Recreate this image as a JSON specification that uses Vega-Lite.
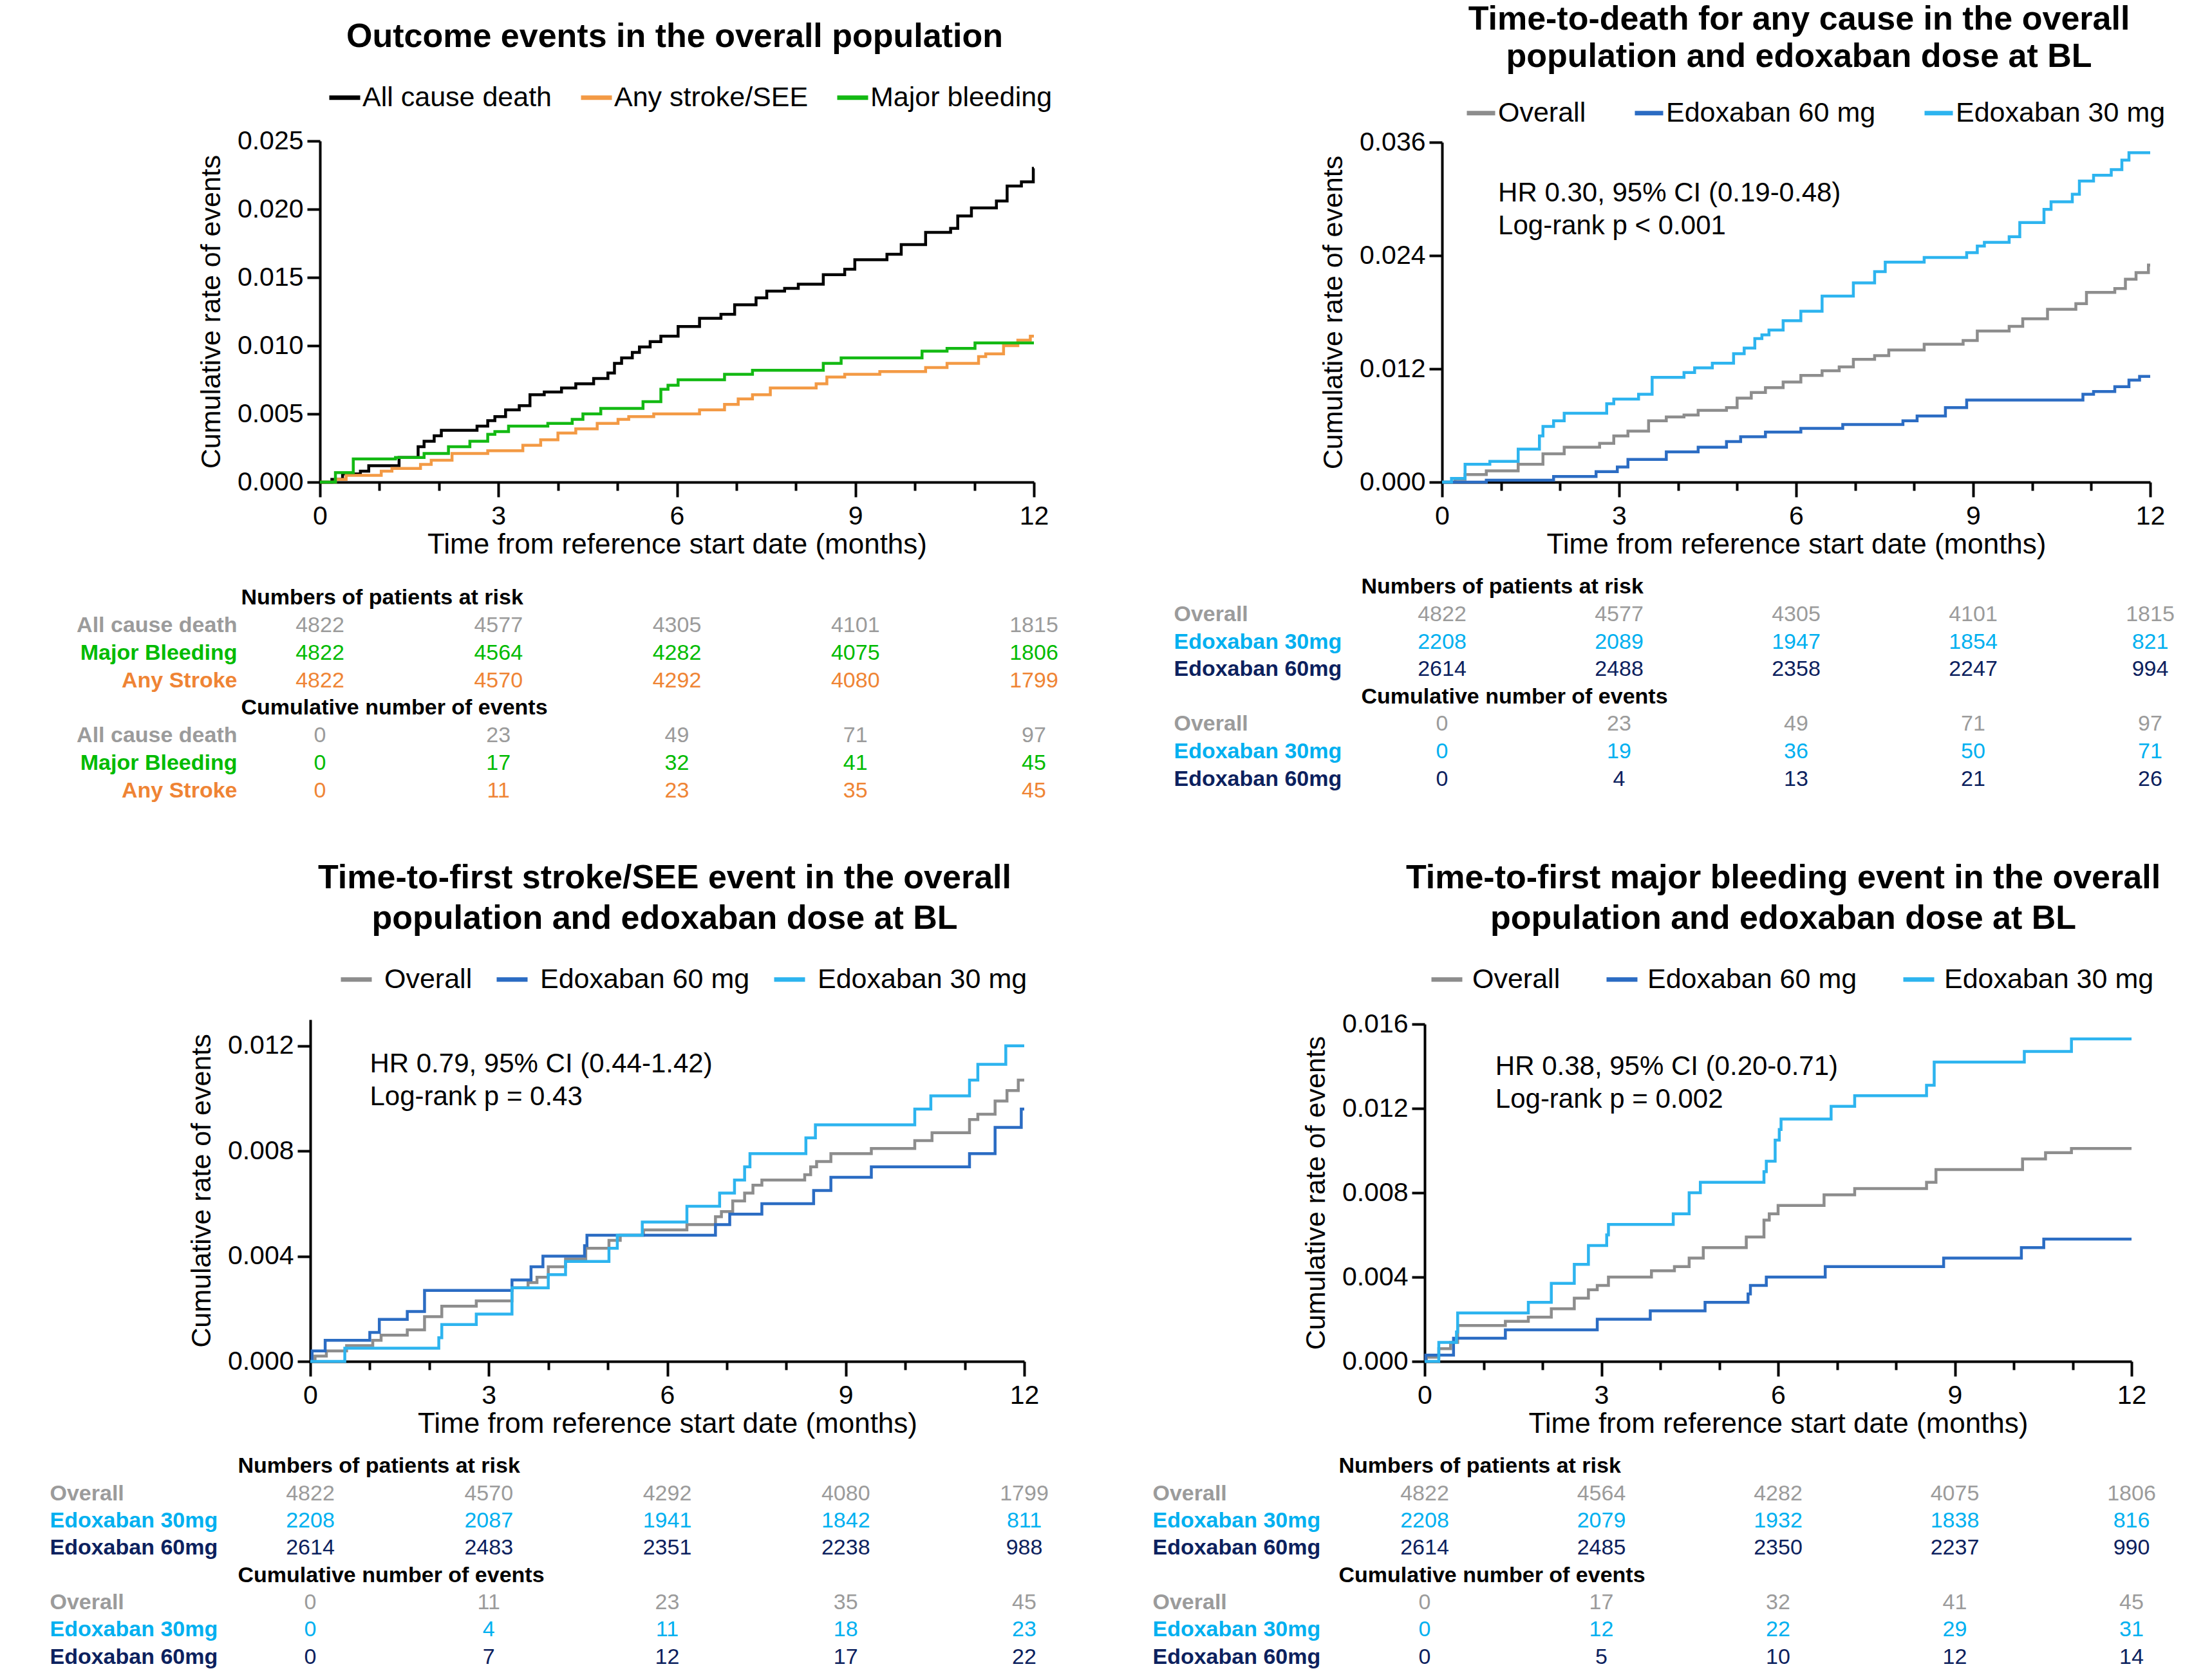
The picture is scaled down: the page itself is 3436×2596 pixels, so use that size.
{
  "$schema": "https://vega.github.io/schema/vega-lite/v6.json",
  "padding": {"left": 77, "top": 4, "right": 10, "bottom": 0},
  "background": "white",
  "config": {
    "font": "Liberation Sans",
    "view": {"stroke": null},
    "title": {"font": "Liberation Sans", "fontSize": 52, "fontWeight": "bold", "color": "#000000", "anchor": "middle", "frame": "group"},
    "axis": {"labelFont": "Liberation Sans", "titleFont": "Liberation Sans", "domainColor": "#000000", "tickColor": "#000000", "labelColor": "#000000", "titleColor": "#000000", "grid": false},
    "legend": {"labelFont": "Liberation Sans"},
    "text": {"font": "Liberation Sans"}
  },
  "datasets": {
    "p1": [
      {"s":"All cause death","t":0,"v":0},{"s":"All cause death","t":0.2,"v":0.0002},{"s":"All cause death","t":0.38,"v":0.0006},{"s":"All cause death","t":0.68,"v":0.0008},{"s":"All cause death","t":0.82,"v":0.0012},{"s":"All cause death","t":1.33,"v":0.0018},{"s":"All cause death","t":1.65,"v":0.0026},{"s":"All cause death","t":1.75,"v":0.003},{"s":"All cause death","t":1.92,"v":0.0034},{"s":"All cause death","t":2.04,"v":0.0038},{"s":"All cause death","t":2.64,"v":0.0041},{"s":"All cause death","t":2.82,"v":0.0045},{"s":"All cause death","t":2.94,"v":0.0048},{"s":"All cause death","t":3.12,"v":0.0053},{"s":"All cause death","t":3.35,"v":0.0056},{"s":"All cause death","t":3.53,"v":0.0064},{"s":"All cause death","t":3.77,"v":0.0066},{"s":"All cause death","t":4.06,"v":0.0069},{"s":"All cause death","t":4.3,"v":0.0072},{"s":"All cause death","t":4.6,"v":0.0076},{"s":"All cause death","t":4.84,"v":0.008},{"s":"All cause death","t":4.95,"v":0.0087},{"s":"All cause death","t":5.07,"v":0.0091},{"s":"All cause death","t":5.25,"v":0.0095},{"s":"All cause death","t":5.37,"v":0.0099},{"s":"All cause death","t":5.55,"v":0.0103},{"s":"All cause death","t":5.73,"v":0.0107},{"s":"All cause death","t":6.02,"v":0.0114},{"s":"All cause death","t":6.38,"v":0.012},{"s":"All cause death","t":6.74,"v":0.0123},{"s":"All cause death","t":6.97,"v":0.013},{"s":"All cause death","t":7.33,"v":0.0135},{"s":"All cause death","t":7.51,"v":0.014},{"s":"All cause death","t":7.81,"v":0.0142},{"s":"All cause death","t":8.04,"v":0.0145},{"s":"All cause death","t":8.46,"v":0.0152},{"s":"All cause death","t":8.82,"v":0.0156},{"s":"All cause death","t":8.99,"v":0.0163},{"s":"All cause death","t":9.53,"v":0.0167},{"s":"All cause death","t":9.77,"v":0.0174},{"s":"All cause death","t":10.18,"v":0.0183},{"s":"All cause death","t":10.6,"v":0.0186},{"s":"All cause death","t":10.72,"v":0.0195},{"s":"All cause death","t":10.95,"v":0.0201},{"s":"All cause death","t":11.37,"v":0.0206},{"s":"All cause death","t":11.55,"v":0.0217},{"s":"All cause death","t":11.79,"v":0.022},{"s":"All cause death","t":11.99,"v":0.023},{"s":"All cause death","t":12,"v":0.023},
      {"s":"Any stroke/SEE","t":0,"v":0},{"s":"Any stroke/SEE","t":0.26,"v":0.0002},{"s":"Any stroke/SEE","t":0.44,"v":0.0005},{"s":"Any stroke/SEE","t":1.03,"v":0.0008},{"s":"Any stroke/SEE","t":1.21,"v":0.001},{"s":"Any stroke/SEE","t":1.69,"v":0.0013},{"s":"Any stroke/SEE","t":1.87,"v":0.0016},{"s":"Any stroke/SEE","t":2.22,"v":0.0021},{"s":"Any stroke/SEE","t":2.82,"v":0.0023},{"s":"Any stroke/SEE","t":3.41,"v":0.0027},{"s":"Any stroke/SEE","t":3.71,"v":0.0031},{"s":"Any stroke/SEE","t":4.0,"v":0.0036},{"s":"Any stroke/SEE","t":4.3,"v":0.0039},{"s":"Any stroke/SEE","t":4.66,"v":0.0043},{"s":"Any stroke/SEE","t":5.01,"v":0.0046},{"s":"Any stroke/SEE","t":5.19,"v":0.0048},{"s":"Any stroke/SEE","t":5.61,"v":0.005},{"s":"Any stroke/SEE","t":6.38,"v":0.0053},{"s":"Any stroke/SEE","t":6.8,"v":0.0057},{"s":"Any stroke/SEE","t":7.03,"v":0.0061},{"s":"Any stroke/SEE","t":7.27,"v":0.0064},{"s":"Any stroke/SEE","t":7.57,"v":0.0069},{"s":"Any stroke/SEE","t":8.34,"v":0.0072},{"s":"Any stroke/SEE","t":8.52,"v":0.0077},{"s":"Any stroke/SEE","t":8.82,"v":0.0079},{"s":"Any stroke/SEE","t":9.41,"v":0.0081},{"s":"Any stroke/SEE","t":10.18,"v":0.0084},{"s":"Any stroke/SEE","t":10.54,"v":0.0087},{"s":"Any stroke/SEE","t":11.07,"v":0.0092},{"s":"Any stroke/SEE","t":11.19,"v":0.0094},{"s":"Any stroke/SEE","t":11.49,"v":0.01},{"s":"Any stroke/SEE","t":11.73,"v":0.0104},{"s":"Any stroke/SEE","t":11.94,"v":0.0107},{"s":"Any stroke/SEE","t":12,"v":0.0107},
      {"s":"Major bleeding","t":0,"v":0},{"s":"Major bleeding","t":0.26,"v":0.0007},{"s":"Major bleeding","t":0.56,"v":0.0017},{"s":"Major bleeding","t":1.27,"v":0.0018},{"s":"Major bleeding","t":1.75,"v":0.0021},{"s":"Major bleeding","t":2.16,"v":0.0026},{"s":"Major bleeding","t":2.52,"v":0.003},{"s":"Major bleeding","t":2.82,"v":0.0035},{"s":"Major bleeding","t":2.94,"v":0.0037},{"s":"Major bleeding","t":3.17,"v":0.0041},{"s":"Major bleeding","t":3.83,"v":0.0043},{"s":"Major bleeding","t":4.24,"v":0.0046},{"s":"Major bleeding","t":4.42,"v":0.005},{"s":"Major bleeding","t":4.72,"v":0.0054},{"s":"Major bleeding","t":5.43,"v":0.0059},{"s":"Major bleeding","t":5.73,"v":0.0068},{"s":"Major bleeding","t":5.85,"v":0.0071},{"s":"Major bleeding","t":6.02,"v":0.0075},{"s":"Major bleeding","t":6.8,"v":0.0079},{"s":"Major bleeding","t":7.27,"v":0.0082},{"s":"Major bleeding","t":8.46,"v":0.0087},{"s":"Major bleeding","t":8.76,"v":0.0091},{"s":"Major bleeding","t":10.12,"v":0.0096},{"s":"Major bleeding","t":10.54,"v":0.0098},{"s":"Major bleeding","t":11.01,"v":0.0102},{"s":"Major bleeding","t":12,"v":0.0102}
    ],
    "p2": [
      {"s":"Overall","t":0,"v":0},{"s":"Overall","t":0.22,"v":0.0003},{"s":"Overall","t":0.39,"v":0.0008},{"s":"Overall","t":0.75,"v":0.0012},{"s":"Overall","t":1.29,"v":0.0019},{"s":"Overall","t":1.71,"v":0.003},{"s":"Overall","t":2.07,"v":0.0037},{"s":"Overall","t":2.67,"v":0.0041},{"s":"Overall","t":2.91,"v":0.0049},{"s":"Overall","t":3.15,"v":0.0054},{"s":"Overall","t":3.5,"v":0.0065},{"s":"Overall","t":3.8,"v":0.0069},{"s":"Overall","t":4.1,"v":0.0071},{"s":"Overall","t":4.34,"v":0.0076},{"s":"Overall","t":4.82,"v":0.0079},{"s":"Overall","t":5.0,"v":0.0089},{"s":"Overall","t":5.24,"v":0.0095},{"s":"Overall","t":5.48,"v":0.01},{"s":"Overall","t":5.78,"v":0.0106},{"s":"Overall","t":6.08,"v":0.0113},{"s":"Overall","t":6.44,"v":0.0118},{"s":"Overall","t":6.73,"v":0.0122},{"s":"Overall","t":6.97,"v":0.013},{"s":"Overall","t":7.33,"v":0.0134},{"s":"Overall","t":7.57,"v":0.014},{"s":"Overall","t":8.17,"v":0.0146},{"s":"Overall","t":8.83,"v":0.015},{"s":"Overall","t":9.07,"v":0.016},{"s":"Overall","t":9.61,"v":0.0165},{"s":"Overall","t":9.84,"v":0.0173},{"s":"Overall","t":10.26,"v":0.0183},{"s":"Overall","t":10.74,"v":0.0189},{"s":"Overall","t":10.92,"v":0.0201},{"s":"Overall","t":11.4,"v":0.0205},{"s":"Overall","t":11.58,"v":0.0215},{"s":"Overall","t":11.76,"v":0.0222},{"s":"Overall","t":11.97,"v":0.023},{"s":"Overall","t":12,"v":0.023},
      {"s":"Edoxaban 60 mg","t":0,"v":0},{"s":"Edoxaban 60 mg","t":0.75,"v":0.0002},{"s":"Edoxaban 60 mg","t":1.89,"v":0.0006},{"s":"Edoxaban 60 mg","t":2.61,"v":0.0011},{"s":"Edoxaban 60 mg","t":2.97,"v":0.0016},{"s":"Edoxaban 60 mg","t":3.15,"v":0.0024},{"s":"Edoxaban 60 mg","t":3.8,"v":0.0032},{"s":"Edoxaban 60 mg","t":4.34,"v":0.0037},{"s":"Edoxaban 60 mg","t":4.82,"v":0.0043},{"s":"Edoxaban 60 mg","t":5.06,"v":0.0048},{"s":"Edoxaban 60 mg","t":5.48,"v":0.0053},{"s":"Edoxaban 60 mg","t":6.08,"v":0.0057},{"s":"Edoxaban 60 mg","t":6.79,"v":0.0061},{"s":"Edoxaban 60 mg","t":7.81,"v":0.0065},{"s":"Edoxaban 60 mg","t":8.05,"v":0.007},{"s":"Edoxaban 60 mg","t":8.53,"v":0.0079},{"s":"Edoxaban 60 mg","t":8.89,"v":0.0087},{"s":"Edoxaban 60 mg","t":10.86,"v":0.0093},{"s":"Edoxaban 60 mg","t":11.04,"v":0.0096},{"s":"Edoxaban 60 mg","t":11.4,"v":0.0101},{"s":"Edoxaban 60 mg","t":11.64,"v":0.0108},{"s":"Edoxaban 60 mg","t":11.82,"v":0.0112},{"s":"Edoxaban 60 mg","t":12,"v":0.0112},
      {"s":"Edoxaban 30 mg","t":0,"v":0},{"s":"Edoxaban 30 mg","t":0.16,"v":0.0004},{"s":"Edoxaban 30 mg","t":0.39,"v":0.0019},{"s":"Edoxaban 30 mg","t":0.81,"v":0.0022},{"s":"Edoxaban 30 mg","t":1.29,"v":0.0035},{"s":"Edoxaban 30 mg","t":1.65,"v":0.0049},{"s":"Edoxaban 30 mg","t":1.71,"v":0.0059},{"s":"Edoxaban 30 mg","t":1.89,"v":0.0065},{"s":"Edoxaban 30 mg","t":2.07,"v":0.0073},{"s":"Edoxaban 30 mg","t":2.79,"v":0.0083},{"s":"Edoxaban 30 mg","t":2.91,"v":0.0088},{"s":"Edoxaban 30 mg","t":3.33,"v":0.0093},{"s":"Edoxaban 30 mg","t":3.56,"v":0.0111},{"s":"Edoxaban 30 mg","t":4.1,"v":0.0116},{"s":"Edoxaban 30 mg","t":4.28,"v":0.0121},{"s":"Edoxaban 30 mg","t":4.58,"v":0.0126},{"s":"Edoxaban 30 mg","t":4.94,"v":0.0136},{"s":"Edoxaban 30 mg","t":5.12,"v":0.0142},{"s":"Edoxaban 30 mg","t":5.3,"v":0.0152},{"s":"Edoxaban 30 mg","t":5.42,"v":0.0156},{"s":"Edoxaban 30 mg","t":5.54,"v":0.0161},{"s":"Edoxaban 30 mg","t":5.78,"v":0.0171},{"s":"Edoxaban 30 mg","t":6.08,"v":0.0181},{"s":"Edoxaban 30 mg","t":6.44,"v":0.0197},{"s":"Edoxaban 30 mg","t":6.97,"v":0.0211},{"s":"Edoxaban 30 mg","t":7.33,"v":0.0223},{"s":"Edoxaban 30 mg","t":7.51,"v":0.0233},{"s":"Edoxaban 30 mg","t":8.17,"v":0.0238},{"s":"Edoxaban 30 mg","t":8.89,"v":0.0243},{"s":"Edoxaban 30 mg","t":9.07,"v":0.025},{"s":"Edoxaban 30 mg","t":9.19,"v":0.0254},{"s":"Edoxaban 30 mg","t":9.61,"v":0.026},{"s":"Edoxaban 30 mg","t":9.79,"v":0.0275},{"s":"Edoxaban 30 mg","t":10.2,"v":0.0289},{"s":"Edoxaban 30 mg","t":10.32,"v":0.0297},{"s":"Edoxaban 30 mg","t":10.68,"v":0.0305},{"s":"Edoxaban 30 mg","t":10.8,"v":0.0319},{"s":"Edoxaban 30 mg","t":11.04,"v":0.0325},{"s":"Edoxaban 30 mg","t":11.34,"v":0.0331},{"s":"Edoxaban 30 mg","t":11.52,"v":0.0341},{"s":"Edoxaban 30 mg","t":11.64,"v":0.0349},{"s":"Edoxaban 30 mg","t":12,"v":0.0349}
    ],
    "p3": [
      {"s":"Overall","t":0,"v":0},{"s":"Overall","t":0.08,"v":0.0002},{"s":"Overall","t":0.27,"v":0.0004},{"s":"Overall","t":0.61,"v":0.0006},{"s":"Overall","t":1.05,"v":0.0008},{"s":"Overall","t":1.19,"v":0.001},{"s":"Overall","t":1.63,"v":0.0012},{"s":"Overall","t":1.92,"v":0.0017},{"s":"Overall","t":2.21,"v":0.0021},{"s":"Overall","t":2.79,"v":0.0023},{"s":"Overall","t":3.39,"v":0.0028},{"s":"Overall","t":3.66,"v":0.003},{"s":"Overall","t":3.81,"v":0.0032},{"s":"Overall","t":4.0,"v":0.0036},{"s":"Overall","t":4.29,"v":0.0039},{"s":"Overall","t":4.63,"v":0.0043},{"s":"Overall","t":5.02,"v":0.0046},{"s":"Overall","t":5.21,"v":0.0048},{"s":"Overall","t":5.6,"v":0.005},{"s":"Overall","t":6.33,"v":0.0052},{"s":"Overall","t":6.81,"v":0.0055},{"s":"Overall","t":6.91,"v":0.0057},{"s":"Overall","t":7.1,"v":0.0061},{"s":"Overall","t":7.3,"v":0.0064},{"s":"Overall","t":7.44,"v":0.0067},{"s":"Overall","t":7.59,"v":0.0069},{"s":"Overall","t":8.31,"v":0.0071},{"s":"Overall","t":8.41,"v":0.0074},{"s":"Overall","t":8.51,"v":0.0076},{"s":"Overall","t":8.75,"v":0.0079},{"s":"Overall","t":9.43,"v":0.0081},{"s":"Overall","t":10.16,"v":0.0084},{"s":"Overall","t":10.45,"v":0.0087},{"s":"Overall","t":11.08,"v":0.0092},{"s":"Overall","t":11.22,"v":0.0094},{"s":"Overall","t":11.51,"v":0.0099},{"s":"Overall","t":11.71,"v":0.0103},{"s":"Overall","t":11.9,"v":0.0107},{"s":"Overall","t":12,"v":0.0107},
      {"s":"Edoxaban 60 mg","t":0,"v":0},{"s":"Edoxaban 60 mg","t":0.03,"v":0.0004},{"s":"Edoxaban 60 mg","t":0.25,"v":0.0008},{"s":"Edoxaban 60 mg","t":1.0,"v":0.0011},{"s":"Edoxaban 60 mg","t":1.16,"v":0.0016},{"s":"Edoxaban 60 mg","t":1.63,"v":0.0019},{"s":"Edoxaban 60 mg","t":1.92,"v":0.0027},{"s":"Edoxaban 60 mg","t":3.39,"v":0.0031},{"s":"Edoxaban 60 mg","t":3.71,"v":0.0036},{"s":"Edoxaban 60 mg","t":3.91,"v":0.004},{"s":"Edoxaban 60 mg","t":4.61,"v":0.0044},{"s":"Edoxaban 60 mg","t":4.65,"v":0.0048},{"s":"Edoxaban 60 mg","t":6.81,"v":0.0052},{"s":"Edoxaban 60 mg","t":7.05,"v":0.0056},{"s":"Edoxaban 60 mg","t":7.59,"v":0.006},{"s":"Edoxaban 60 mg","t":8.46,"v":0.0065},{"s":"Edoxaban 60 mg","t":8.75,"v":0.007},{"s":"Edoxaban 60 mg","t":9.43,"v":0.0074},{"s":"Edoxaban 60 mg","t":11.08,"v":0.0079},{"s":"Edoxaban 60 mg","t":11.51,"v":0.0089},{"s":"Edoxaban 60 mg","t":11.95,"v":0.0096},{"s":"Edoxaban 60 mg","t":12,"v":0.0096},
      {"s":"Edoxaban 30 mg","t":0,"v":0},{"s":"Edoxaban 30 mg","t":0.58,"v":0.0005},{"s":"Edoxaban 30 mg","t":2.16,"v":0.0009},{"s":"Edoxaban 30 mg","t":2.21,"v":0.0014},{"s":"Edoxaban 30 mg","t":2.79,"v":0.0018},{"s":"Edoxaban 30 mg","t":3.39,"v":0.0028},{"s":"Edoxaban 30 mg","t":4.0,"v":0.0033},{"s":"Edoxaban 30 mg","t":4.29,"v":0.0038},{"s":"Edoxaban 30 mg","t":5.02,"v":0.0043},{"s":"Edoxaban 30 mg","t":5.16,"v":0.0048},{"s":"Edoxaban 30 mg","t":5.58,"v":0.0053},{"s":"Edoxaban 30 mg","t":6.33,"v":0.0059},{"s":"Edoxaban 30 mg","t":6.88,"v":0.0064},{"s":"Edoxaban 30 mg","t":7.13,"v":0.0069},{"s":"Edoxaban 30 mg","t":7.3,"v":0.0074},{"s":"Edoxaban 30 mg","t":7.39,"v":0.0079},{"s":"Edoxaban 30 mg","t":8.33,"v":0.0085},{"s":"Edoxaban 30 mg","t":8.49,"v":0.009},{"s":"Edoxaban 30 mg","t":10.16,"v":0.0096},{"s":"Edoxaban 30 mg","t":10.43,"v":0.0101},{"s":"Edoxaban 30 mg","t":11.08,"v":0.0107},{"s":"Edoxaban 30 mg","t":11.22,"v":0.0113},{"s":"Edoxaban 30 mg","t":11.69,"v":0.012},{"s":"Edoxaban 30 mg","t":12,"v":0.012}
    ],
    "p4": [
      {"s":"Overall","t":0,"v":0},{"s":"Overall","t":0.03,"v":0.0002},{"s":"Overall","t":0.24,"v":0.0006},{"s":"Overall","t":0.44,"v":0.0009},{"s":"Overall","t":0.56,"v":0.0017},{"s":"Overall","t":1.37,"v":0.0019},{"s":"Overall","t":1.76,"v":0.0021},{"s":"Overall","t":2.15,"v":0.0025},{"s":"Overall","t":2.54,"v":0.003},{"s":"Overall","t":2.78,"v":0.0034},{"s":"Overall","t":2.93,"v":0.0036},{"s":"Overall","t":3.12,"v":0.004},{"s":"Overall","t":3.85,"v":0.0043},{"s":"Overall","t":4.24,"v":0.0045},{"s":"Overall","t":4.49,"v":0.0049},{"s":"Overall","t":4.73,"v":0.0054},{"s":"Overall","t":5.46,"v":0.0059},{"s":"Overall","t":5.76,"v":0.0067},{"s":"Overall","t":5.85,"v":0.007},{"s":"Overall","t":6.0,"v":0.0074},{"s":"Overall","t":6.78,"v":0.0079},{"s":"Overall","t":7.3,"v":0.0082},{"s":"Overall","t":8.52,"v":0.0085},{"s":"Overall","t":8.68,"v":0.0091},{"s":"Overall","t":10.15,"v":0.0096},{"s":"Overall","t":10.54,"v":0.0099},{"s":"Overall","t":10.98,"v":0.0101},{"s":"Overall","t":12,"v":0.0101},
      {"s":"Edoxaban 60 mg","t":0,"v":0},{"s":"Edoxaban 60 mg","t":0.02,"v":0.0003},{"s":"Edoxaban 60 mg","t":0.49,"v":0.0011},{"s":"Edoxaban 60 mg","t":1.37,"v":0.0015},{"s":"Edoxaban 60 mg","t":2.93,"v":0.002},{"s":"Edoxaban 60 mg","t":3.83,"v":0.0024},{"s":"Edoxaban 60 mg","t":4.76,"v":0.0028},{"s":"Edoxaban 60 mg","t":5.49,"v":0.0032},{"s":"Edoxaban 60 mg","t":5.53,"v":0.0036},{"s":"Edoxaban 60 mg","t":5.8,"v":0.004},{"s":"Edoxaban 60 mg","t":6.8,"v":0.0045},{"s":"Edoxaban 60 mg","t":8.81,"v":0.0049},{"s":"Edoxaban 60 mg","t":10.13,"v":0.0054},{"s":"Edoxaban 60 mg","t":10.51,"v":0.0058},{"s":"Edoxaban 60 mg","t":12,"v":0.0058},
      {"s":"Edoxaban 30 mg","t":0,"v":0},{"s":"Edoxaban 30 mg","t":0.24,"v":0.0009},{"s":"Edoxaban 30 mg","t":0.54,"v":0.0014},{"s":"Edoxaban 30 mg","t":0.56,"v":0.0023},{"s":"Edoxaban 30 mg","t":1.76,"v":0.0028},{"s":"Edoxaban 30 mg","t":2.15,"v":0.0037},{"s":"Edoxaban 30 mg","t":2.54,"v":0.0046},{"s":"Edoxaban 30 mg","t":2.78,"v":0.0055},{"s":"Edoxaban 30 mg","t":3.09,"v":0.006},{"s":"Edoxaban 30 mg","t":3.12,"v":0.0065},{"s":"Edoxaban 30 mg","t":4.22,"v":0.007},{"s":"Edoxaban 30 mg","t":4.49,"v":0.008},{"s":"Edoxaban 30 mg","t":4.68,"v":0.0085},{"s":"Edoxaban 30 mg","t":5.76,"v":0.009},{"s":"Edoxaban 30 mg","t":5.8,"v":0.0095},{"s":"Edoxaban 30 mg","t":5.95,"v":0.0105},{"s":"Edoxaban 30 mg","t":6.02,"v":0.011},{"s":"Edoxaban 30 mg","t":6.05,"v":0.0115},{"s":"Edoxaban 30 mg","t":6.9,"v":0.0121},{"s":"Edoxaban 30 mg","t":7.3,"v":0.0126},{"s":"Edoxaban 30 mg","t":8.52,"v":0.0131},{"s":"Edoxaban 30 mg","t":8.65,"v":0.0142},{"s":"Edoxaban 30 mg","t":10.18,"v":0.0147},{"s":"Edoxaban 30 mg","t":10.98,"v":0.0153},{"s":"Edoxaban 30 mg","t":12,"v":0.0153}
    ],
    "t1": [
      {"r":"All cause death","g":"All cause death","m0":4822,"m3":4577,"m6":4305,"m9":4101,"m12":1815},
      {"r":"Major Bleeding","g":"Major Bleeding","m0":4822,"m3":4564,"m6":4282,"m9":4075,"m12":1806},
      {"r":"Any Stroke","g":"Any Stroke","m0":4822,"m3":4570,"m6":4292,"m9":4080,"m12":1799},
      {"r":"~All cause death","g":"All cause death","m0":0,"m3":23,"m6":49,"m9":71,"m12":97},
      {"r":"~Major Bleeding","g":"Major Bleeding","m0":0,"m3":17,"m6":32,"m9":41,"m12":45},
      {"r":"~Any Stroke","g":"Any Stroke","m0":0,"m3":11,"m6":23,"m9":35,"m12":45}
    ],
    "t2": [
      {"r":"Overall","g":"Overall","m0":4822,"m3":4577,"m6":4305,"m9":4101,"m12":1815},
      {"r":"Edoxaban 30mg","g":"Edoxaban 30mg","m0":2208,"m3":2089,"m6":1947,"m9":1854,"m12":821},
      {"r":"Edoxaban 60mg","g":"Edoxaban 60mg","m0":2614,"m3":2488,"m6":2358,"m9":2247,"m12":994},
      {"r":"~Overall","g":"Overall","m0":0,"m3":23,"m6":49,"m9":71,"m12":97},
      {"r":"~Edoxaban 30mg","g":"Edoxaban 30mg","m0":0,"m3":19,"m6":36,"m9":50,"m12":71},
      {"r":"~Edoxaban 60mg","g":"Edoxaban 60mg","m0":0,"m3":4,"m6":13,"m9":21,"m12":26}
    ],
    "t3": [
      {"r":"Overall","g":"Overall","m0":4822,"m3":4570,"m6":4292,"m9":4080,"m12":1799},
      {"r":"Edoxaban 30mg","g":"Edoxaban 30mg","m0":2208,"m3":2087,"m6":1941,"m9":1842,"m12":811},
      {"r":"Edoxaban 60mg","g":"Edoxaban 60mg","m0":2614,"m3":2483,"m6":2351,"m9":2238,"m12":988},
      {"r":"~Overall","g":"Overall","m0":0,"m3":11,"m6":23,"m9":35,"m12":45},
      {"r":"~Edoxaban 30mg","g":"Edoxaban 30mg","m0":0,"m3":4,"m6":11,"m9":18,"m12":23},
      {"r":"~Edoxaban 60mg","g":"Edoxaban 60mg","m0":0,"m3":7,"m6":12,"m9":17,"m12":22}
    ],
    "t4": [
      {"r":"Overall","g":"Overall","m0":4822,"m3":4564,"m6":4282,"m9":4075,"m12":1806},
      {"r":"Edoxaban 30mg","g":"Edoxaban 30mg","m0":2208,"m3":2079,"m6":1932,"m9":1838,"m12":816},
      {"r":"Edoxaban 60mg","g":"Edoxaban 60mg","m0":2614,"m3":2485,"m6":2350,"m9":2237,"m12":990},
      {"r":"~Overall","g":"Overall","m0":0,"m3":17,"m6":32,"m9":41,"m12":45},
      {"r":"~Edoxaban 30mg","g":"Edoxaban 30mg","m0":0,"m3":12,"m6":22,"m9":29,"m12":31},
      {"r":"~Edoxaban 60mg","g":"Edoxaban 60mg","m0":0,"m3":5,"m6":10,"m9":12,"m12":14}
    ],
    "blank": [{"a": 1}]
  },
  "columns": 3,
  "spacing": {"row": 142, "column": 0},
  "align": "each",
  "bounds": "flush",
  "resolve": {"scale": {"color": "independent"}, "legend": {"color": "independent"}},
  "concat": [
    {
      "width": 1124, "height": 530,
      "data": {"name": "p1"},
      "title": {"text": "Outcome events in the overall population", "offset": 40, "dx": 4},
      "mark": {"type": "line", "interpolate": "step-after", "strokeWidth": 4.5},
      "encoding": {
        "x": {"field": "t", "type": "quantitative", "scale": {"domain": [0, 12], "nice": false, "range": [15, 1124]},
          "axis": {"values": [0,1,2,3,4,5,6,7,8,9,10,11,12], "format": "d", "labelExpr": "datum.value % 3 === 0 ? datum.label : ''", "tickSize": {"condition": {"test": "datum.value % 3 === 0", "value": 23}, "value": 13}, "tickWidth": 4, "domainWidth": 4, "labelFontSize": 41, "labelPadding": 10, "labelFlush": false, "labelOverlap": false, "title": "Time from reference start date (months)", "titleFontSize": 44, "titleFontWeight": "normal", "titlePadding": 2}},
        "y": {"field": "v", "type": "quantitative", "scale": {"domain": [0, 0.025], "nice": false},
          "axis": {"offset": -15, "values": [0, 0.005, 0.01, 0.015, 0.02, 0.025], "format": ".3f", "tickSize": 20, "tickWidth": 4, "domainWidth": 4, "labelFontSize": 41, "labelPadding": 6, "labelFlush": false, "title": "Cumulative rate of events", "titleFontSize": 43, "titleFontWeight": "normal", "titlePadding": 18}},
        "color": {"field": "s", "type": "nominal", "scale": {"domain": ["All cause death", "Any stroke/SEE", "Major bleeding"], "range": ["#000000", "#f39a45", "#13b913"]},
          "legend": {"orient": "none", "legendX": 26, "legendY": -95, "direction": "horizontal", "columns": 3, "title": null, "symbolType": "stroke", "symbolStrokeWidth": 7, "symbolSize": 2304, "labelFontSize": 43, "labelColor": "#000000", "labelLimit": 1000, "labelOffset": 0, "columnPadding": 30}}
      }
    },
    {"width": 607, "height": 1, "data": {"name": "blank"}, "mark": {"type": "point", "opacity": 0}, "encoding": {}},
    {
      "width": 1127, "height": 530,
      "title": {"text": ["Time-to-death for any cause in the overall", "population and edoxaban dose at BL"], "offset": 35, "lineHeight": 58, "dx": 18},
      "layer": [
        {
          "data": {"name": "p2"},
          "mark": {"type": "line", "interpolate": "step-after", "strokeWidth": 4.5},
          "encoding": {
            "x": {"field": "t", "type": "quantitative", "scale": {"domain": [0, 12], "nice": false, "range": [27, 1127]},
              "axis": {"values": [0,1,2,3,4,5,6,7,8,9,10,11,12], "format": "d", "labelExpr": "datum.value % 3 === 0 ? datum.label : ''", "tickSize": {"condition": {"test": "datum.value % 3 === 0", "value": 23}, "value": 13}, "tickWidth": 4, "domainWidth": 4, "labelFontSize": 41, "labelPadding": 10, "labelFlush": false, "labelOverlap": false, "title": "Time from reference start date (months)", "titleFontSize": 44, "titleFontWeight": "normal", "titlePadding": 2}},
            "y": {"field": "v", "type": "quantitative", "scale": {"domain": [0, 0.036], "nice": false, "range": [530, 2]},
              "axis": {"offset": -27, "values": [0, 0.012, 0.024, 0.036], "format": ".3f", "tickSize": 20, "tickWidth": 4, "domainWidth": 4, "labelFontSize": 41, "labelPadding": 6, "labelFlush": false, "title": "Cumulative rate of events", "titleFontSize": 43, "titleFontWeight": "normal", "titlePadding": 18}},
            "color": {"field": "s", "type": "nominal", "scale": {"domain": ["Overall", "Edoxaban 60 mg", "Edoxaban 30 mg"], "range": ["#8d8d8d", "#2b6cc3", "#2db4ef"]},
              "legend": {"orient": "none", "legendX": 62, "legendY": -69, "direction": "horizontal", "columns": 3, "title": null, "symbolType": "stroke", "symbolStrokeWidth": 7, "symbolSize": 1936, "labelFontSize": 43, "labelColor": "#000000", "labelLimit": 1000, "labelOffset": 1, "columnPadding": 61}}
          }
        },
        {
          "data": {"values": [{"txt": ["HR 0.30, 95% CI (0.19-0.48)", "Log-rank p < 0.001"]}]},
          "mark": {"type": "text", "align": "left", "baseline": "middle", "fontSize": 42, "lineHeight": 51, "color": "#000000"},
          "encoding": {"x": {"datum": 0.95, "type": "quantitative"}, "y": {"datum": 0.0306, "type": "quantitative"}, "text": {"field": "txt"}}
        }
      ]
    },
    {
      "width": 1124, "height": 359,
      "data": {"name": "t1"},
      "transform": [{"fold": ["m0", "m3", "m6", "m9", "m12"], "as": ["m", "n"]}],
      "mark": {"type": "text", "fontSize": 34, "align": "center", "baseline": "middle"},
      "encoding": {
        "x": {"field": "m", "type": "nominal", "scale": {"type": "point", "domain": ["m0", "m3", "m6", "m9", "m12"], "padding": 0, "range": [15, 1124]}, "axis": null},
        "y": {"field": "r", "type": "nominal", "scale": {"type": "band", "domain": ["Numbers of patients at risk", "All cause death", "Major Bleeding", "Any Stroke", "Cumulative number of events", "~All cause death", "~Major Bleeding", "~Any Stroke"], "paddingInner": 0, "paddingOuter": 0, "range": [17, 359]},
          "axis": {"title": null, "domain": false, "ticks": false, "tickSize": 0, "labelFontSize": 34, "labelFontWeight": "bold", "labelLimit": 0, "labelOverlap": false, "labelExpr": "replace(datum.label, '~', '')",
            "labelColor": {"condition": [{"test": "datum.value === 'Numbers of patients at risk' || datum.value === 'Cumulative number of events'", "value": "#000000"}, {"test": "indexof(datum.value, 'Major') >= 0", "value": "#00bb00"}, {"test": "indexof(datum.value, 'Stroke') >= 0", "value": "#ef8434"}], "value": "#9b9b9b"},
            "labelAlign": {"condition": {"test": "datum.value === 'Numbers of patients at risk' || datum.value === 'Cumulative number of events'", "value": "left"}, "value": "right"},
            "labelPadding": {"condition": {"test": "datum.value === 'Numbers of patients at risk' || datum.value === 'Cumulative number of events'", "value": 108}, "value": 114}}},
        "text": {"field": "n", "type": "nominal"},
        "color": {"field": "g", "type": "nominal", "scale": {"domain": ["All cause death", "Major Bleeding", "Any Stroke"], "range": ["#9b9b9b", "#00bb00", "#ef8434"]}, "legend": null}
      }
    },
    {"width": 607, "height": 1, "data": {"name": "blank"}, "mark": {"type": "point", "opacity": 0}, "encoding": {}},
    {
      "width": 1127, "height": 341,
      "data": {"name": "t2"},
      "transform": [{"fold": ["m0", "m3", "m6", "m9", "m12"], "as": ["m", "n"]}],
      "mark": {"type": "text", "fontSize": 34, "align": "center", "baseline": "middle"},
      "encoding": {
        "x": {"field": "m", "type": "nominal", "scale": {"type": "point", "domain": ["m0", "m3", "m6", "m9", "m12"], "padding": 0, "range": [27, 1127]}, "axis": null},
        "y": {"field": "r", "type": "nominal", "scale": {"type": "band", "domain": ["Numbers of patients at risk", "Overall", "Edoxaban 30mg", "Edoxaban 60mg", "Cumulative number of events", "~Overall", "~Edoxaban 30mg", "~Edoxaban 60mg"], "paddingInner": 0, "paddingOuter": 0},
          "axis": {"title": null, "domain": false, "ticks": false, "tickSize": 0, "labelFontSize": 34, "labelFontWeight": "bold", "labelLimit": 0, "labelOverlap": false, "labelAlign": "left", "labelExpr": "replace(datum.label, '~', '')",
            "labelColor": {"condition": [{"test": "datum.value === 'Numbers of patients at risk' || datum.value === 'Cumulative number of events'", "value": "#000000"}, {"test": "indexof(datum.value, '30mg') >= 0", "value": "#00b0f0"}, {"test": "indexof(datum.value, '60mg') >= 0", "value": "#0c215e"}], "value": "#9b9b9b"},
            "labelPadding": {"condition": {"test": "datum.value === 'Numbers of patients at risk' || datum.value === 'Cumulative number of events'", "value": 99}, "value": 390}}},
        "text": {"field": "n", "type": "nominal"},
        "color": {"field": "g", "type": "nominal", "scale": {"domain": ["Overall", "Edoxaban 30mg", "Edoxaban 60mg"], "range": ["#9b9b9b", "#00b0f0", "#0c215e"]}, "legend": null}
      }
    },
    {"width": 1, "height": 50, "data": {"name": "blank"}, "mark": {"type": "point", "opacity": 0}, "encoding": {}},
    {"width": 1, "height": 50, "data": {"name": "blank"}, "mark": {"type": "point", "opacity": 0}, "encoding": {}},
    {"width": 1, "height": 50, "data": {"name": "blank"}, "mark": {"type": "point", "opacity": 0}, "encoding": {}},
    {
      "width": 1109, "height": 531,
      "title": {"text": ["Time-to-first stroke/SEE event in the overall", "population and edoxaban dose at BL"], "offset": 40, "lineHeight": 63, "dx": -4},
      "layer": [
        {
          "data": {"name": "p3"},
          "mark": {"type": "line", "interpolate": "step-after", "strokeWidth": 4.5},
          "encoding": {
            "x": {"field": "t", "type": "quantitative", "scale": {"domain": [0, 12], "nice": false},
              "axis": {"values": [0,1,2,3,4,5,6,7,8,9,10,11,12], "format": "d", "labelExpr": "datum.value % 3 === 0 ? datum.label : ''", "tickSize": {"condition": {"test": "datum.value % 3 === 0", "value": 23}, "value": 13}, "tickWidth": 4, "domainWidth": 4, "labelFontSize": 41, "labelPadding": 10, "labelFlush": false, "labelOverlap": false, "title": "Time from reference start date (months)", "titleFontSize": 44, "titleFontWeight": "normal", "titlePadding": 2}},
            "y": {"field": "v", "type": "quantitative", "scale": {"domain": [0, 0.013], "nice": false},
              "axis": {"values": [0, 0.004, 0.008, 0.012], "format": ".3f", "tickSize": 20, "tickWidth": 4, "domainWidth": 4, "labelFontSize": 41, "labelPadding": 6, "labelFlush": false, "title": "Cumulative rate of events", "titleFontSize": 43, "titleFontWeight": "normal", "titlePadding": 18}},
            "color": {"field": "s", "type": "nominal", "scale": {"domain": ["Overall", "Edoxaban 60 mg", "Edoxaban 30 mg"], "range": ["#8d8d8d", "#2b6cc3", "#2db4ef"]},
              "legend": {"orient": "none", "legendX": 44, "legendY": -90, "direction": "horizontal", "columns": 3, "title": null, "symbolType": "stroke", "symbolStrokeWidth": 7, "symbolSize": 2304, "labelFontSize": 43, "labelColor": "#000000", "labelLimit": 1000, "labelOffset": 16, "columnPadding": 23}}
          }
        },
        {
          "data": {"values": [{"txt": ["HR 0.79, 95% CI (0.44-1.42)", "Log-rank p = 0.43"]}]},
          "mark": {"type": "text", "align": "left", "baseline": "middle", "fontSize": 42, "lineHeight": 51, "color": "#000000"},
          "encoding": {"x": {"datum": 1.0, "type": "quantitative"}, "y": {"datum": 0.0113, "type": "quantitative"}, "text": {"field": "txt"}}
        }
      ]
    },
    {"width": 607, "height": 1, "data": {"name": "blank"}, "mark": {"type": "point", "opacity": 0}, "encoding": {}},
    {
      "width": 1098, "height": 531,
      "title": {"text": ["Time-to-first major bleeding event in the overall", "population and edoxaban dose at BL"], "offset": 40, "lineHeight": 63, "dx": 8},
      "layer": [
        {
          "data": {"name": "p4"},
          "mark": {"type": "line", "interpolate": "step-after", "strokeWidth": 4.5},
          "encoding": {
            "x": {"field": "t", "type": "quantitative", "scale": {"domain": [0, 12], "nice": false},
              "axis": {"values": [0,1,2,3,4,5,6,7,8,9,10,11,12], "format": "d", "labelExpr": "datum.value % 3 === 0 ? datum.label : ''", "tickSize": {"condition": {"test": "datum.value % 3 === 0", "value": 23}, "value": 13}, "tickWidth": 4, "domainWidth": 4, "labelFontSize": 41, "labelPadding": 10, "labelFlush": false, "labelOverlap": false, "title": "Time from reference start date (months)", "titleFontSize": 44, "titleFontWeight": "normal", "titlePadding": 2}},
            "y": {"field": "v", "type": "quantitative", "scale": {"domain": [0, 0.016], "nice": false, "range": [531, 7]},
              "axis": {"values": [0, 0.004, 0.008, 0.012, 0.016], "format": ".3f", "tickSize": 20, "tickWidth": 4, "domainWidth": 4, "labelFontSize": 41, "labelPadding": 6, "labelFlush": false, "title": "Cumulative rate of events", "titleFontSize": 43, "titleFontWeight": "normal", "titlePadding": 18}},
            "color": {"field": "s", "type": "nominal", "scale": {"domain": ["Overall", "Edoxaban 60 mg", "Edoxaban 30 mg"], "range": ["#8d8d8d", "#2b6cc3", "#2db4ef"]},
              "legend": {"orient": "none", "legendX": 7, "legendY": -90, "direction": "horizontal", "columns": 3, "title": null, "symbolType": "stroke", "symbolStrokeWidth": 7, "symbolSize": 2304, "labelFontSize": 43, "labelColor": "#000000", "labelLimit": 1000, "labelOffset": 12, "columnPadding": 57}}
          }
        },
        {
          "data": {"values": [{"txt": ["HR 0.38, 95% CI (0.20-0.71)", "Log-rank p = 0.002"]}]},
          "mark": {"type": "text", "align": "left", "baseline": "middle", "fontSize": 42, "lineHeight": 51, "color": "#000000"},
          "encoding": {"x": {"datum": 1.2, "type": "quantitative"}, "y": {"datum": 0.014, "type": "quantitative"}, "text": {"field": "txt"}}
        }
      ]
    },
    {
      "width": 1109, "height": 339,
      "data": {"name": "t3"},
      "transform": [{"fold": ["m0", "m3", "m6", "m9", "m12"], "as": ["m", "n"]}],
      "mark": {"type": "text", "fontSize": 34, "align": "center", "baseline": "middle"},
      "encoding": {
        "x": {"field": "m", "type": "nominal", "scale": {"type": "point", "domain": ["m0", "m3", "m6", "m9", "m12"], "padding": 0}, "axis": null},
        "y": {"field": "r", "type": "nominal", "scale": {"type": "band", "domain": ["Numbers of patients at risk", "Overall", "Edoxaban 30mg", "Edoxaban 60mg", "Cumulative number of events", "~Overall", "~Edoxaban 30mg", "~Edoxaban 60mg"], "paddingInner": 0, "paddingOuter": 0},
          "axis": {"title": null, "domain": false, "ticks": false, "tickSize": 0, "labelFontSize": 34, "labelFontWeight": "bold", "labelLimit": 0, "labelOverlap": false, "labelAlign": "left", "labelExpr": "replace(datum.label, '~', '')",
            "labelColor": {"condition": [{"test": "datum.value === 'Numbers of patients at risk' || datum.value === 'Cumulative number of events'", "value": "#000000"}, {"test": "indexof(datum.value, '30mg') >= 0", "value": "#00b0f0"}, {"test": "indexof(datum.value, '60mg') >= 0", "value": "#0c215e"}], "value": "#9b9b9b"},
            "labelPadding": {"condition": {"test": "datum.value === 'Numbers of patients at risk' || datum.value === 'Cumulative number of events'", "value": 113}, "value": 405}}},
        "text": {"field": "n", "type": "nominal"},
        "color": {"field": "g", "type": "nominal", "scale": {"domain": ["Overall", "Edoxaban 30mg", "Edoxaban 60mg"], "range": ["#9b9b9b", "#00b0f0", "#0c215e"]}, "legend": null}
      }
    },
    {"width": 607, "height": 1, "data": {"name": "blank"}, "mark": {"type": "point", "opacity": 0}, "encoding": {}},
    {
      "width": 1098, "height": 339,
      "data": {"name": "t4"},
      "transform": [{"fold": ["m0", "m3", "m6", "m9", "m12"], "as": ["m", "n"]}],
      "mark": {"type": "text", "fontSize": 34, "align": "center", "baseline": "middle"},
      "encoding": {
        "x": {"field": "m", "type": "nominal", "scale": {"type": "point", "domain": ["m0", "m3", "m6", "m9", "m12"], "padding": 0}, "axis": null},
        "y": {"field": "r", "type": "nominal", "scale": {"type": "band", "domain": ["Numbers of patients at risk", "Overall", "Edoxaban 30mg", "Edoxaban 60mg", "Cumulative number of events", "~Overall", "~Edoxaban 30mg", "~Edoxaban 60mg"], "paddingInner": 0, "paddingOuter": 0},
          "axis": {"title": null, "domain": false, "ticks": false, "tickSize": 0, "labelFontSize": 34, "labelFontWeight": "bold", "labelLimit": 0, "labelOverlap": false, "labelAlign": "left", "labelExpr": "replace(datum.label, '~', '')",
            "labelColor": {"condition": [{"test": "datum.value === 'Numbers of patients at risk' || datum.value === 'Cumulative number of events'", "value": "#000000"}, {"test": "indexof(datum.value, '30mg') >= 0", "value": "#00b0f0"}, {"test": "indexof(datum.value, '60mg') >= 0", "value": "#0c215e"}], "value": "#9b9b9b"},
            "labelPadding": {"condition": {"test": "datum.value === 'Numbers of patients at risk' || datum.value === 'Cumulative number of events'", "value": 134}, "value": 423}}},
        "text": {"field": "n", "type": "nominal"},
        "color": {"field": "g", "type": "nominal", "scale": {"domain": ["Overall", "Edoxaban 30mg", "Edoxaban 60mg"], "range": ["#9b9b9b", "#00b0f0", "#0c215e"]}, "legend": null}
      }
    }
  ]
}
